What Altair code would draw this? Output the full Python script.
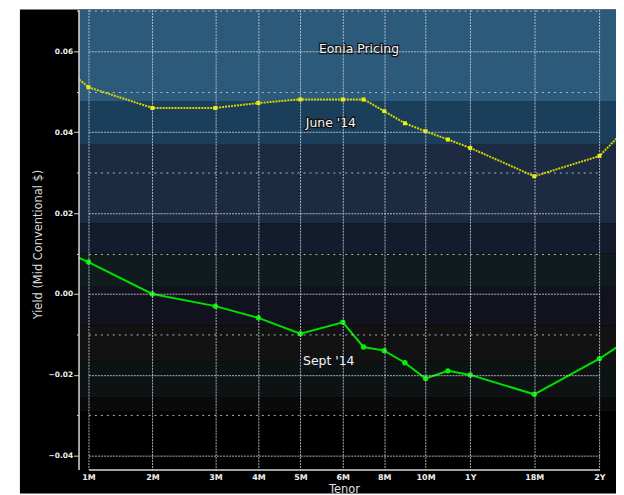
import altair as alt
import pandas as pd

# ---- data ----
tenor_months = [0.5, 1, 2, 3, 4, 5, 6, 7, 8, 9, 10, 11, 12, 18, 24, 30]
june_yield = [0.0578, 0.0511, 0.0460, 0.0460, 0.0472, 0.0481, 0.0481, 0.0481,
              0.0452, 0.0422, 0.0402, 0.0382, 0.0361, 0.0291, 0.0341, 0.0506]
sept_yield = [0.0114, 0.0079, 0.0000, -0.0030, -0.0059, -0.0098, -0.0070, -0.0131,
              -0.0140, -0.0170, -0.0209, -0.0190, -0.0200, -0.0248, -0.0160, -0.0054]

tick_months = [1, 2, 3, 4, 5, 6, 8, 10, 12, 18, 24]
tick_labels = ["1M", "2M", "3M", "4M", "5M", "6M", "8M", "10M", "1Y", "18M", "2Y"]
y_ticks = [-0.04, -0.03, -0.02, -0.01, 0.0, 0.01, 0.02, 0.03, 0.04, 0.05, 0.06, 0.07]

band_top = [0.0703, 0.0477, 0.0371, 0.0175, 0.0101, 0.0020, -0.0078, -0.0167, -0.0256]
band_bottom = [0.0477, 0.0371, 0.0175, 0.0101, 0.0020, -0.0078, -0.0167, -0.0256, -0.0290]
band_color = ["#2b5a7a", "#1b3f5a", "#1c2a42", "#131b2c", "#0f1b1c",
              "#12121f", "#121212", "#0d1313", "#0a0a0a"]

ann_text = ["Eonia Pricing", "June '14", "Sept '14"]
ann_month = [6.78, 5.72, 5.67]
ann_yield = [0.0605, 0.0423, -0.0165]

# ---- layout ----
W, H = 541, 463
tick_px = [10, 74.3, 137.7, 181, 223.3, 266, 307.7, 349.3, 394.3, 458.7, 524.3]

june = pd.DataFrame({"tenor": tenor_months, "yield": june_yield})
sept = pd.DataFrame({"tenor": tenor_months, "yield": sept_yield})
bands = pd.DataFrame({"top": band_top, "bottom": band_bottom, "color": band_color})
ann = pd.DataFrame({"text": ann_text, "tenor": ann_month, "yield": ann_yield})

label_expr = " : ".join(
    f"datum.value == {m} ? '{l}'" for m, l in zip(tick_months, tick_labels)
) + " : ''"

major_test = "abs(round(datum.value * 100)) % 2 == 0"

x_scale = alt.Scale(domain=tick_months, range=tick_px, nice=False, zero=False)
y_scale = alt.Scale(domain=[-0.0434, 0.0703], nice=False, zero=False)

x_axis = alt.Axis(
    values=tick_months, labelExpr=label_expr, grid=True, gridDash=[2, 1],
    gridColor="#c8d0d8", gridOpacity=0.85, gridWidth=1, ticks=False,
    labelPadding=4, labelFont="DejaVu Sans", labelFontSize=8, labelFontWeight="bold",
    labelColor="#f0f0f0", labelFlush=False, labelOverlap=False,
    domainColor="#d8d8d8", domainWidth=1.5,
    title="Tenor", titleFont="DejaVu Sans", titleFontSize=11.5, titleFontWeight="normal",
    titleColor="#e0e0e0", titleY=14, titleBaseline="top", zindex=1,
)
y_axis = alt.Axis(
    values=y_ticks, labelExpr=f"{major_test} ? format(datum.value, '.2f') : ''",
    grid=True,
    gridDash={"condition": {"test": major_test, "value": [2, 1]}, "value": [2, 4]},
    gridColor="#c8d0d8", gridOpacity=0.85, gridWidth=1,
    ticks=True, tickColor="#d8d8d8",
    tickSize={"condition": {"test": major_test, "value": 5}, "value": 2},
    labelPadding=1, labelFont="DejaVu Sans", labelFontSize=7.5, labelFontWeight="bold",
    labelColor="#f0f0f0", labelFlush=False, labelOverlap=False,
    domainColor="#d8d8d8", domainWidth=1.5,
    title="Yield (Mid Conventional $)", titleFont="DejaVu Sans", titleFontSize=11.5,
    titleFontWeight="normal", titleColor="#d8d8d8", titleX=-35, titleY=236, zindex=1,
)

bg = alt.Chart(pd.DataFrame({"a": [0]})).mark_rect(color="black").encode(
    x=alt.value(-59), x2=alt.value(W + 1), y=alt.value(0), y2=alt.value(H + 24)
)

band_layer = alt.Chart(bands).mark_rect().encode(
    x=alt.value(0), x2=alt.value(W),
    y=alt.Y("top:Q", scale=y_scale, axis=y_axis),
    y2="bottom:Q",
    color=alt.Color("color:N", scale=None),
)

june_line = alt.Chart(june).mark_line(
    clip=True, color="#d4d400", strokeWidth=2, strokeDash=[2, 1]
).encode(
    x=alt.X("tenor:Q", scale=x_scale, axis=x_axis),
    y=alt.Y("yield:Q", scale=y_scale),
)
june_pts = alt.Chart(june).mark_point(
    clip=True, shape="square", filled=True, size=16, color="#f0f000", opacity=1
).encode(x=alt.X("tenor:Q", scale=x_scale), y=alt.Y("yield:Q", scale=y_scale))

sept_line = alt.Chart(sept).mark_line(
    clip=True, color="#00e000", strokeWidth=2
).encode(x=alt.X("tenor:Q", scale=x_scale), y=alt.Y("yield:Q", scale=y_scale))
sept_pts = alt.Chart(sept).mark_point(
    clip=True, shape="circle", filled=True, size=30, color="#00f000", opacity=1
).encode(x=alt.X("tenor:Q", scale=x_scale), y=alt.Y("yield:Q", scale=y_scale))

ann_base = alt.Chart(ann).encode(
    x=alt.X("tenor:Q", scale=x_scale), y=alt.Y("yield:Q", scale=y_scale), text="text:N"
)
ann_outline = ann_base.mark_text(
    font="DejaVu Sans", fontSize=12.5, color="#f4f4f4", stroke="#101418",
    strokeWidth=2.5, align="center", baseline="middle"
)
ann_fill = ann_base.mark_text(
    font="DejaVu Sans", fontSize=12.5, color="#f4f4f4", align="center", baseline="middle"
)

chart = alt.layer(
    bg, band_layer, june_line, june_pts, sept_line, sept_pts, ann_outline, ann_fill
).properties(
    width=W, height=H,
    padding={"left": 71, "top": 0, "right": 0, "bottom": 24},
    autosize=alt.AutoSizeParams(type="none"),
    background="white",
).configure_view(strokeWidth=0)

chart.save("out.html", embed_options={"renderer": "svg", "actions": False})
